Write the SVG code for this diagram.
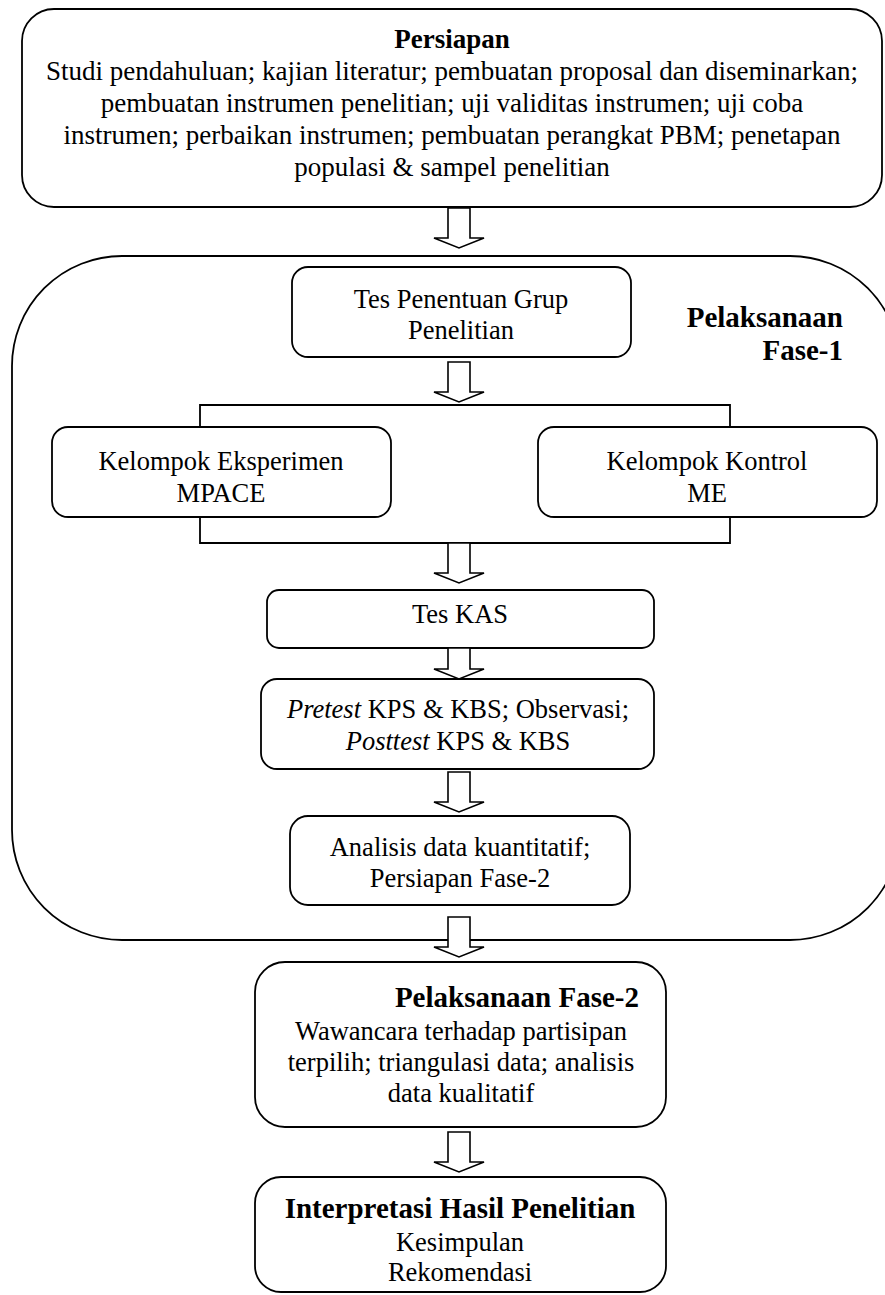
<svg xmlns="http://www.w3.org/2000/svg" width="885" height="1295" viewBox="0 0 885 1295">
<defs>
<style>
.box{fill:#fff;stroke:#000;stroke-width:1.8}
.ln{fill:none;stroke:#000;stroke-width:1.8}
.arr{fill:#fff;stroke:#000;stroke-width:1.6;stroke-linejoin:miter}
text{font-family:"Liberation Serif","Times New Roman",serif;fill:#000}
.t{font-size:26.5px;text-anchor:middle}
.tt{font-size:27px;text-anchor:middle}
.b{font-weight:bold}
.h{font-size:29px;font-weight:bold}
</style>
</defs>
<rect width="885" height="1295" fill="#fff"/>

<g id="fase1-container">
<rect class="box" x="12" y="256" width="888" height="684" rx="110" ry="110"/>
<text class="h" x="843" y="327" text-anchor="end">Pelaksanaan</text>
<text class="h" x="843" y="360" text-anchor="end">Fase-1</text>
</g>

<g id="persiapan">
<rect class="box" x="22" y="9" width="860" height="198" rx="32" ry="32"/>
<text class="tt b" x="452" y="48">Persiapan</text>
<text class="tt" x="452" y="80">Studi pendahuluan; kajian literatur; pembuatan proposal dan diseminarkan;</text>
<text class="tt" x="452" y="112">pembuatan instrumen penelitian; uji validitas instrumen; uji coba</text>
<text class="tt" x="452" y="144">instrumen; perbaikan instrumen; pembuatan perangkat PBM; penetapan</text>
<text class="tt" x="452" y="176">populasi &amp; sampel penelitian</text>
</g>

<g id="tes-penentuan">
<rect class="box" x="292" y="267" width="339" height="90" rx="16" ry="16"/>
<text class="t" x="461" y="308">Tes Penentuan Grup</text>
<text class="t" x="461" y="339">Penelitian</text>
</g>

<g id="kelompok-eksperimen">
<rect class="box" x="52" y="427" width="339" height="90" rx="16" ry="16"/>
<text class="t" x="221" y="470">Kelompok Eksperimen</text>
<text class="t" x="221" y="502">MPACE</text>
</g>

<g id="kelompok-kontrol">
<rect class="box" x="538" y="427" width="339" height="90" rx="16" ry="16"/>
<text class="t" x="707" y="470">Kelompok Kontrol</text>
<text class="t" x="707" y="502">ME</text>
</g>

<g id="tes-kas">
<rect class="box" x="267" y="590" width="387" height="58" rx="12" ry="12"/>
<text class="t" x="460" y="623">Tes KAS</text>
</g>

<g id="pretest-posttest">
<rect class="box" x="261" y="679" width="393" height="90" rx="16" ry="16"/>
<text class="t" x="458" y="718"><tspan font-style="italic">Pretest</tspan> KPS &amp; KBS; Observasi;</text>
<text class="t" x="458" y="750"><tspan font-style="italic">Posttest</tspan> KPS &amp; KBS</text>
</g>

<g id="analisis">
<rect class="box" x="290" y="816" width="340" height="89" rx="18" ry="18"/>
<text class="t" x="460" y="856">Analisis data kuantitatif;</text>
<text class="t" x="460" y="887">Persiapan Fase-2</text>
</g>

<g id="fase2">
<rect class="box" x="255" y="962" width="411" height="165" rx="30" ry="30"/>
<text class="h" x="639" y="1007" text-anchor="end">Pelaksanaan Fase-2</text>
<text class="t" x="461" y="1040">Wawancara terhadap partisipan</text>
<text class="t" x="461" y="1071">terpilih; triangulasi data; analisis</text>
<text class="t" x="461" y="1102">data kualitatif</text>
</g>

<g id="interpretasi">
<rect class="box" x="255" y="1177" width="411" height="115" rx="26" ry="26"/>
<text class="h" x="460" y="1218" text-anchor="middle">Interpretasi Hasil Penelitian</text>
<text class="t" x="460" y="1251">Kesimpulan</text>
<text class="t" x="460" y="1281">Rekomendasi</text>
</g>

<g id="connectors">
<polyline class="ln" points="200,427 200,405 730,405 730,427"/>
<polyline class="ln" points="200,517 200,543 730,543 730,517"/>
<path class="arr" d="M448,208 H470 V238 H484 L459,248 L434,238 H448 Z"/>
<path class="arr" d="M448,362 H470 V392 H484 L459,402 L434,392 H448 Z"/>
<path class="arr" d="M448,543 H470 V573 H484 L459,583 L434,573 H448 Z"/>
<path class="arr" d="M448,648 H470 V669 H484 L459,679 L434,669 H448 Z"/>
<path class="arr" d="M448,772 H470 V802 H484 L459,812 L434,802 H448 Z"/>
<path class="arr" d="M448,917 H470 V947 H484 L459,957 L434,947 H448 Z"/>
<path class="arr" d="M448,1132 H470 V1162 H484 L459,1172 L434,1162 H448 Z"/>
</g>
</svg>
